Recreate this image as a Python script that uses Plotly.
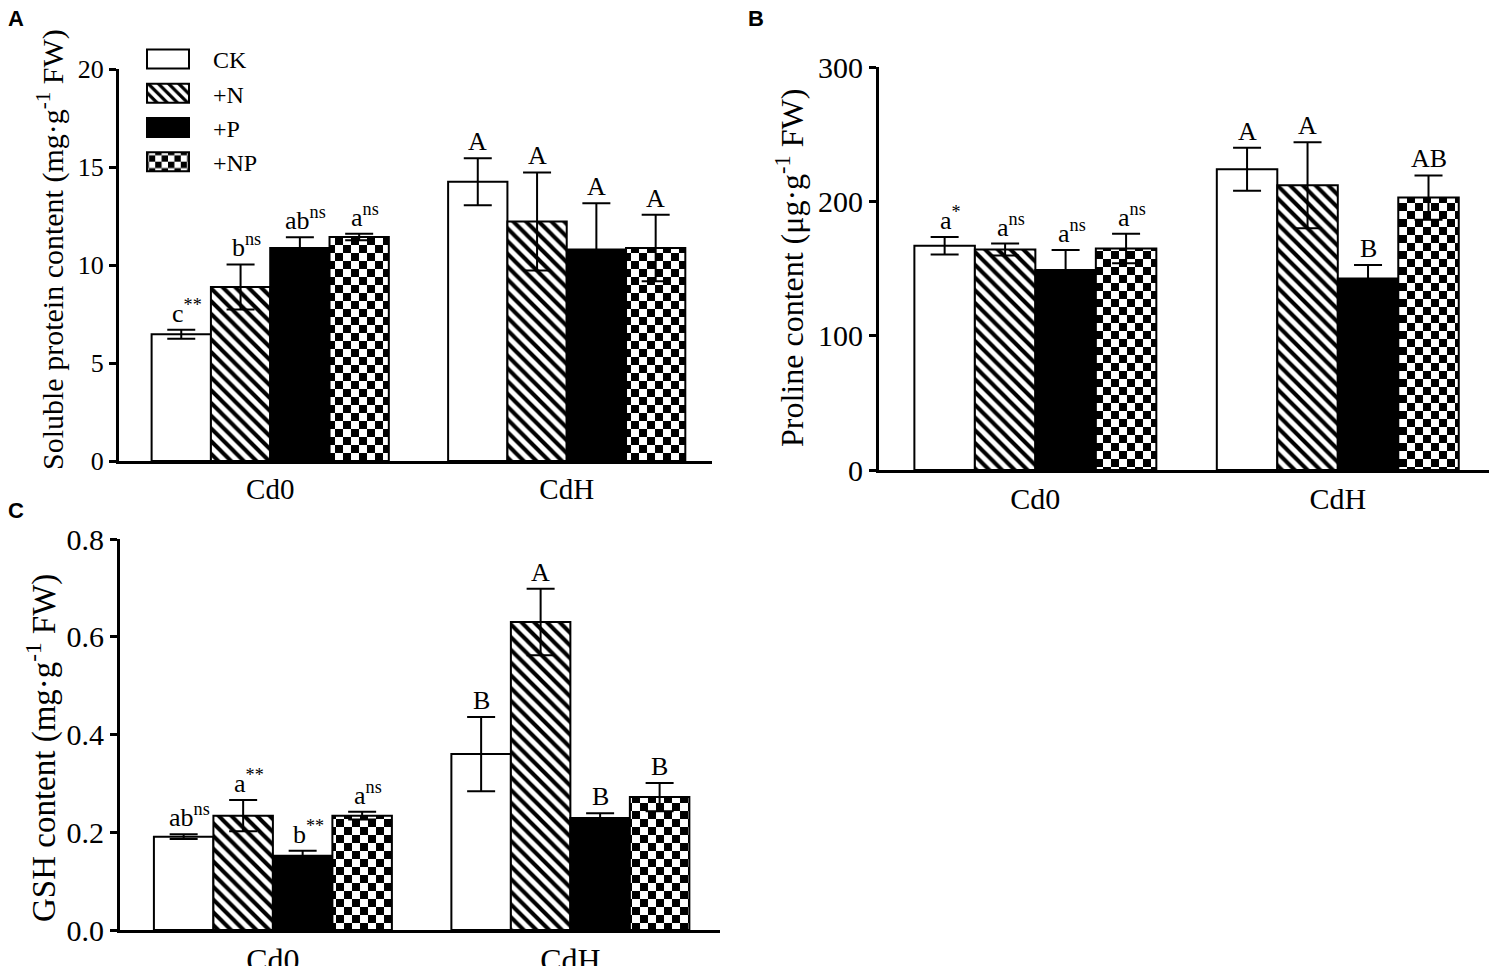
import plotly.graph_objects as go

# DATA
treatments = ["CK", "+N", "+P", "+NP"]
cd_levels = ["Cd0", "CdH"]

# A: soluble protein content, one row per treatment -> [Cd0, CdH]
protein_mean = [[6.47, 14.25], [8.88, 12.22], [10.87, 10.79], [11.43, 10.87]]
protein_err = [[0.23, 1.2], [1.15, 2.5], [0.54, 2.36], [0.17, 1.7]]
protein_labels = [["c<sup>**</sup>", "A"], ["b<sup>ns</sup>", "A"],
                  ["ab<sup>ns</sup>", "A"], ["a<sup>ns</sup>", "A"]]

# B: proline content
proline_mean = [[166.9, 223.9], [164.1, 212.0], [148.8, 142.6], [164.9, 202.8]]
proline_err = [[6.5, 16.0], [4.5, 32.0], [14.9, 10.0], [11.0, 16.5]]
proline_labels = [["a<sup>*</sup>", "A"], ["a<sup>ns</sup>", "A"],
                  ["a<sup>ns</sup>", "B"], ["a<sup>ns</sup>", "AB"]]

# C: GSH content
gsh_mean = [[0.191, 0.360], [0.234, 0.630], [0.152, 0.229], [0.234, 0.272]]
gsh_err = [[0.005, 0.076], [0.032, 0.068], [0.010, 0.010], [0.008, 0.029]]
gsh_labels = [["ab<sup>ns</sup>", "B"], ["a<sup>**</sup>", "A"],
              ["b<sup>**</sup>", "B"], ["a<sup>ns</sup>", "B"]]

SERIF = "Liberation Serif"
W, H = 1489, 966
fills = ["white", "white", "black", "white"]
shapes = ["", "\\", "", "+"]
offsets = [-0.3, -0.1, 0.1, 0.3]   # bar centres inside a group (bargap 0.2, 4 bars)

fig = go.Figure()

panels = [
    # means, errors, labels, axis suffix, y title, title font, title centre (px)
    (protein_mean, protein_err, protein_labels, "",
     "Soluble protein content (mg·g<sup>-1</sup> FW)", 30, 50, 250),
    (proline_mean, proline_err, proline_labels, "2",
     "Proline content (μg·g<sup>-1</sup> FW)", 32, 790, 268),
    (gsh_mean, gsh_err, gsh_labels, "3",
     "GSH content (mg·g<sup>-1</sup> FW)", 33, 41, 748),
]

for p, (means, errs, labels, ax, ytitle, yfs, tx, ty) in enumerate(panels):
    for i, name in enumerate(treatments):
        pattern = dict(shape=shapes[i], fgcolor="black", bgcolor="white",
                       size=9, solidity=0.45)
        if name == "+NP":
            pattern = dict(shape="+", fgcolor="black", bgcolor="white",
                           size=16, solidity=0.5)
        fig.add_trace(go.Bar(
            x=cd_levels, y=means[i], name=name,
            xaxis="x" + ax, yaxis="y" + ax,
            uid=("checker" if name == "+NP" else "bar") + str(p) + str(i),
            showlegend=(p == 0),
            marker=dict(color=fills[i], line=dict(color="black", width=2),
                        pattern=pattern),
            error_y=dict(type="data", array=errs[i], color="black",
                         thickness=2, width=14),
        ))
        # significance letters above each error bar
        for g in range(len(cd_levels)):
            txt = labels[i][g]
            fig.add_annotation(
                x=g + offsets[i], y=means[i][g] + errs[i][g],
                xref="x" + ax, yref="y" + ax, text=txt, showarrow=False,
                xanchor="center", yanchor="bottom",
                xshift=6 if "<sup>" in txt else 0,
                font=dict(family=SERIF, size=26, color="black"))
    # rotated y title
    fig.add_annotation(x=tx / W, y=1 - ty / H, xref="paper", yref="paper",
                       text=ytitle, textangle=-90, showarrow=False,
                       xanchor="center", yanchor="middle",
                       font=dict(family=SERIF, size=yfs, color="black"))

axis_common = dict(showline=True, linewidth=3, linecolor="black",
                   showgrid=False, zeroline=False, automargin=False)
yax_common = dict(axis_common, ticks="outside", ticklen=7, tickwidth=2.5,
                  tickcolor="black")

fig.update_layout(
    template="none",
    width=W, height=H,
    margin=dict(l=0, r=0, t=0, b=0, pad=0),
    paper_bgcolor="white", plot_bgcolor="white",
    barmode="group", bargap=0.2, bargroupgap=0,
    font=dict(family=SERIF, size=26, color="black"),
    xaxis=dict(axis_common, domain=[119 / W, 712 / W], anchor="y",
               range=[-0.51, 1.49], ticks="", tickfont=dict(size=29)),
    yaxis=dict(yax_common, domain=[1 - 461 / H, 1 - 69 / H], anchor="x",
               range=[0, 20], tickvals=[0, 5, 10, 15, 20], tickfont=dict(size=26)),
    xaxis2=dict(axis_common, domain=[879 / W, 1.0], anchor="y2",
                range=[-0.517, 1.50], ticks="", tickfont=dict(size=30)),
    yaxis2=dict(yax_common, domain=[1 - 470 / H, 1 - 67 / H], anchor="x2",
                range=[0, 300], tickvals=[0, 100, 200, 300], tickfont=dict(size=30)),
    xaxis3=dict(axis_common, domain=[120 / W, 720 / W], anchor="y3",
                range=[-0.514, 1.503], ticks="", tickfont=dict(size=32)),
    yaxis3=dict(yax_common, domain=[1 - 930 / H, 1 - 539 / H], anchor="x3",
                range=[0, 0.8], tickvals=[0, 0.2, 0.4, 0.6, 0.8],
                tickformat=".1f", tickfont=dict(size=30)),
    legend=dict(x=123 / W, y=1 - 37 / H, xanchor="left", yanchor="top",
                font=dict(family=SERIF, size=24), tracegroupgap=0,
                itemwidth=80, bgcolor="rgba(0,0,0,0)"),
)

# panel letters
for letter, lx, ly in [("A", 16, 18), ("B", 756, 18), ("C", 16, 510)]:
    fig.add_annotation(x=lx / W, y=1 - ly / H, xref="paper", yref="paper",
                       text="<b>" + letter + "</b>", showarrow=False,
                       xanchor="center", yanchor="middle",
                       font=dict(family="Liberation Sans", size=22, color="black"))

# page margin off, wider legend swatches, and a checkerboard for the +NP bars
post_js = """
document.body.style.margin = '0';
var gd = document.getElementById('{plot_id}');
gd.querySelectorAll('g.legendpoints path').forEach(function(pth){
    pth.setAttribute('d', 'M21,9.5H-21V-9.5H21Z');
});
var ns = 'http://www.w3.org/2000/svg';
var s = 8;
gd.querySelectorAll('pattern[id*="checker"]').forEach(function(p){
    p.setAttribute('width', 2*s); p.setAttribute('height', 2*s);
    while (p.firstChild) { p.removeChild(p.firstChild); }
    var r = document.createElementNS(ns, 'rect');
    r.setAttribute('width', 2*s); r.setAttribute('height', 2*s);
    r.setAttribute('fill', 'white'); p.appendChild(r);
    [[0, 0], [s, s]].forEach(function(o){
        var q = document.createElementNS(ns, 'rect');
        q.setAttribute('x', o[0]); q.setAttribute('y', o[1]);
        q.setAttribute('width', s); q.setAttribute('height', s);
        q.setAttribute('fill', 'black'); p.appendChild(q);
    });
});
"""

fig.write_html("out.html", post_script=post_js, config={"displayModeBar": False})
